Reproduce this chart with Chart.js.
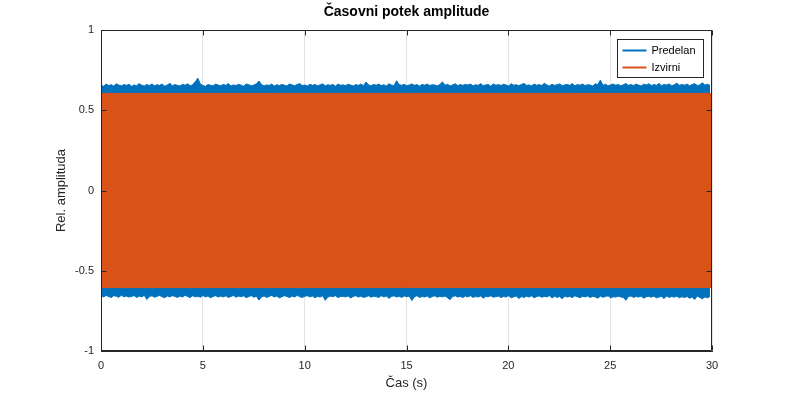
<!DOCTYPE html>
<html><head><meta charset="utf-8">
<script src="https://cdn.jsdelivr.net/npm/chart.js@4/dist/chart.umd.min.js"></script>
<style>html,body{margin:0;padding:0;background:#fff}</style>
</head><body>
<canvas id="c" width="787" height="393"></canvas>
<script>
const chartTitle = 'Časovni potek amplitude';
const xLabel = 'Čas (s)';
const yLabel = 'Rel. amplituda';
const seriesNames = ['Predelan', 'Izvirni'];
const seriesColors = ['#0072BD', '#D95319'];
const xTicks = [0, 5, 10, 15, 20, 25, 30];
const yTicks = [-1, -0.5, 0, 0.5, 1];
const tStart = 0;
const tEndPredelan = 29.9;
const tEndIzvirni = 30;

// Predelan: peak envelope (upper / lower)
const predelanUpper = [
0.656,0.65,0.663,0.654,0.659,0.651,0.665,0.657,0.652,0.66,0.655,0.662,
0.649,0.658,0.653,0.666,0.656,0.651,0.661,0.654,0.664,0.652,0.659,0.655,
0.663,0.65,0.657,0.668,0.653,0.66,0.655,0.651,0.662,0.656,0.665,0.652,
0.659,0.678,0.7,0.664,0.654,0.649,0.66,0.656,0.652,0.663,0.657,0.653,
0.661,0.655,0.666,0.651,0.658,0.654,0.662,0.656,0.65,0.664,0.659,0.653,
0.657,0.665,0.682,0.66,0.652,0.658,0.655,0.663,0.65,0.659,0.654,0.661,
0.656,0.651,0.664,0.658,0.653,0.66,0.666,0.654,0.657,0.651,0.662,0.655,
0.66,0.653,0.658,0.665,0.652,0.659,0.655,0.661,0.65,0.663,0.656,0.658,
0.654,0.662,0.657,0.651,0.66,0.655,0.664,0.653,0.676,0.658,0.652,0.661,
0.656,0.663,0.654,0.659,0.651,0.665,0.657,0.653,0.684,0.66,0.655,0.662,
0.652,0.658,0.664,0.655,0.66,0.65,0.661,0.656,0.663,0.654,0.659,0.657,
0.653,0.66,0.677,0.656,0.662,0.651,0.658,0.665,0.654,0.66,0.655,0.661,
0.657,0.663,0.652,0.659,0.655,0.666,0.653,0.658,0.661,0.65,0.664,0.656,
0.66,0.654,0.662,0.657,0.651,0.665,0.656,0.659,0.653,0.661,0.667,0.655,
0.658,0.652,0.663,0.656,0.66,0.654,0.668,0.657,0.651,0.662,0.655,0.659,
0.664,0.653,0.658,0.661,0.655,0.666,0.652,0.66,0.656,0.663,0.654,0.659,
0.657,0.651,0.665,0.66,0.688,0.655,0.662,0.653,0.658,0.664,0.656,0.661,
0.652,0.659,0.666,0.655,0.66,0.654,0.663,0.657,0.651,0.662,0.658,0.665,
0.654,0.66,0.656,0.667,0.653,0.661,0.657,0.664,0.652,0.659,0.669,0.655,
0.661,0.656,0.663,0.653,0.66,0.666,0.654,0.658,0.671,0.657,0.662,0.655
];
const predelanLower = [
-0.656,-0.663,-0.654,-0.661,-0.667,-0.655,-0.659,-0.665,-0.653,-0.662,-0.658,-0.664,
-0.66,-0.655,-0.666,-0.658,-0.663,-0.653,-0.679,-0.661,-0.656,-0.665,-0.659,-0.654,
-0.662,-0.668,-0.657,-0.663,-0.655,-0.66,-0.666,-0.658,-0.664,-0.653,-0.661,-0.667,
-0.656,-0.662,-0.659,-0.665,-0.654,-0.663,-0.657,-0.669,-0.66,-0.655,-0.664,-0.658,
-0.663,-0.656,-0.667,-0.66,-0.654,-0.665,-0.658,-0.662,-0.656,-0.668,-0.661,-0.655,
-0.665,-0.659,-0.683,-0.663,-0.657,-0.666,-0.66,-0.654,-0.664,-0.658,-0.669,-0.662,
-0.655,-0.661,-0.667,-0.658,-0.664,-0.653,-0.662,-0.666,-0.659,-0.655,-0.663,-0.657,
-0.668,-0.66,-0.664,-0.656,-0.684,-0.665,-0.658,-0.662,-0.655,-0.667,-0.661,-0.659,
-0.663,-0.657,-0.67,-0.66,-0.655,-0.664,-0.658,-0.666,-0.662,-0.656,-0.665,-0.659,
-0.661,-0.667,-0.655,-0.663,-0.658,-0.672,-0.66,-0.656,-0.664,-0.659,-0.666,-0.657,
-0.662,-0.658,-0.686,-0.663,-0.655,-0.667,-0.66,-0.664,-0.657,-0.669,-0.661,-0.656,
-0.665,-0.659,-0.663,-0.657,-0.668,-0.68,-0.661,-0.656,-0.664,-0.66,-0.667,-0.658,
-0.663,-0.655,-0.666,-0.66,-0.664,-0.657,-0.671,-0.659,-0.662,-0.656,-0.665,-0.661,
-0.658,-0.667,-0.66,-0.664,-0.655,-0.669,-0.662,-0.657,-0.673,-0.661,-0.666,-0.659,
-0.664,-0.656,-0.668,-0.661,-0.657,-0.665,-0.66,-0.663,-0.655,-0.67,-0.659,-0.666,
-0.661,-0.674,-0.658,-0.664,-0.66,-0.667,-0.656,-0.662,-0.668,-0.659,-0.663,-0.657,
-0.666,-0.66,-0.663,-0.671,-0.658,-0.665,-0.661,-0.656,-0.669,-0.662,-0.664,-0.659,
-0.663,-0.667,-0.684,-0.661,-0.657,-0.666,-0.66,-0.664,-0.658,-0.671,-0.662,-0.659,
-0.665,-0.658,-0.669,-0.663,-0.66,-0.673,-0.657,-0.666,-0.661,-0.664,-0.659,-0.668,
-0.662,-0.667,-0.66,-0.671,-0.664,-0.679,-0.658,-0.666,-0.675,-0.663,-0.669,-0.661
];
// Izvirni: constant peak amplitude
const izvirniUpper = [0.605, 0.605];
const izvirniLower = [-0.605, -0.605];
const izvirniT = [tStart, tEndIzvirni];

const n = predelanUpper.length;
const predelanT = predelanUpper.map((_, i) => tStart + i * (tEndPredelan - tStart) / (n - 1));
const pts = (ts, vs) => ts.map((t, i) => ({x: t, y: vs[i]}));

const TXT = '#262626';
const FONT = '"Liberation Sans", Arial, Helvetica, sans-serif';

const frame = {
  id: 'frame',
  afterDraw(chart) {
    const {ctx, chartArea: a, scales} = chart;
    ctx.save();
    ctx.strokeStyle = TXT;
    ctx.lineWidth = 1;
    ctx.beginPath();
    const L = Math.round(a.left) + 0.5, R = Math.round(a.right) - 0.5;
    const T = Math.round(a.top) + 0.5, B = Math.round(a.bottom) - 0.5;
    ctx.moveTo(L, T); ctx.lineTo(R, T); ctx.lineTo(R, B); ctx.lineTo(L, B); ctx.closePath();
    // inward tick marks
    const tl = 5;
    xTicks.forEach(v => {
      const x = Math.round(scales.x.getPixelForValue(v)) + 0.5;
      ctx.moveTo(x, B); ctx.lineTo(x, B - tl);
      ctx.moveTo(x, T); ctx.lineTo(x, T + tl);
    });
    yTicks.forEach(v => {
      const y = Math.round(scales.y.getPixelForValue(v)) + 0.5;
      ctx.moveTo(L, y); ctx.lineTo(L + tl, y);
      ctx.moveTo(R, y); ctx.lineTo(R - tl, y);
    });
    ctx.stroke();

    // legend
    const lw = 86, lh = 38;
    const lx = Math.round(a.right - 9 - lw) + 0.5, ly = Math.round(a.top + 9) + 0.5;
    ctx.fillStyle = '#fff';
    ctx.fillRect(lx, ly, lw, lh);
    ctx.strokeStyle = TXT;
    ctx.lineWidth = 1;
    ctx.strokeRect(lx, ly, lw, lh);
    ctx.font = '11px ' + FONT;
    ctx.textBaseline = 'middle';
    ctx.textAlign = 'left';
    seriesNames.forEach((name, i) => {
      const yy = ly + 11 + i * 17;
      ctx.strokeStyle = seriesColors[i];
      ctx.lineWidth = 2;
      ctx.beginPath();
      ctx.moveTo(lx + 5, yy); ctx.lineTo(lx + 29, yy);
      ctx.stroke();
      ctx.fillStyle = '#000';
      ctx.fillText(name, lx + 34, yy);
    });
    ctx.restore();
  }
};

new Chart(document.getElementById('c'), {
  type: 'line',
  data: {
    datasets: [
      {label: seriesNames[0], data: pts(predelanT, predelanUpper), borderColor: seriesColors[0], backgroundColor: seriesColors[0], borderWidth: 1, pointRadius: 0, fill: '+1', order: 3, tension: 0},
      {label: seriesNames[0] + ' (min)', data: pts(predelanT, predelanLower), borderColor: seriesColors[0], backgroundColor: seriesColors[0], borderWidth: 1, pointRadius: 0, fill: false, order: 4, tension: 0},
      {label: seriesNames[1], data: pts(izvirniT, izvirniUpper), borderColor: seriesColors[1], backgroundColor: seriesColors[1], borderWidth: 1, pointRadius: 0, fill: '+1', order: 1},
      {label: seriesNames[1] + ' (min)', data: pts(izvirniT, izvirniLower), borderColor: seriesColors[1], backgroundColor: seriesColors[1], borderWidth: 1, pointRadius: 0, fill: false, order: 2}
    ]
  },
  options: {
    responsive: false,
    animation: false,
    events: [],
    layout: {padding: {left: 0, right: 75, top: 0, bottom: 0}},
    plugins: {
      legend: {display: false},
      tooltip: {enabled: false},
      title: {
        display: true, text: chartTitle, fullSize: false, color: '#000',
        font: {family: FONT, size: 14, weight: 'bold'},
        padding: {top: 4, bottom: 9.2}
      }
    },
    scales: {
      x: {
        type: 'linear', min: 0, max: 30,
        afterBuildTicks: s => { s.ticks = xTicks.map(v => ({value: v})); },
        afterFit: s => { s.height = 42; },
        ticks: {color: TXT, font: {family: FONT, size: 11}, padding: 8, maxRotation: 0, callback: v => String(v)},
        grid: {color: '#e3e3e3', drawTicks: false},
        border: {display: true, color: TXT, width: 1},
        title: {display: true, text: xLabel, color: TXT, font: {family: FONT, size: 13}, padding: {top: 0, bottom: 2}}
      },
      y: {
        type: 'linear', min: -1, max: 1,
        afterBuildTicks: s => { s.ticks = yTicks.map(v => ({value: v})); },
        afterFit: s => { s.width = 101; },
        ticks: {color: TXT, font: {family: FONT, size: 11}, padding: 7, callback: v => String(v)},
        grid: {color: '#e3e3e3', drawTicks: false},
        border: {display: true, color: TXT, width: 1},
        title: {display: true, text: yLabel, color: TXT, font: {family: FONT, size: 13}, padding: {top: 54, bottom: 0}}
      }
    }
  },
  plugins: [frame]
});
</script>
</body></html>
